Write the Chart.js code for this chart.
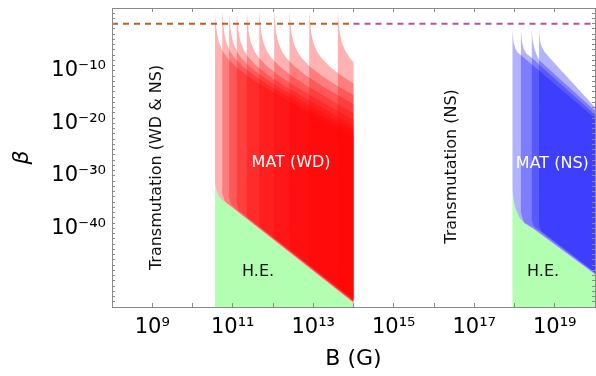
<!DOCTYPE html>
<html>
<head>
<meta charset="utf-8">
<script src="https://cdn.jsdelivr.net/npm/chart.js@4.4.1/dist/chart.umd.min.js"></script>
<style>
  html, body { margin: 0; padding: 0; background: #fff; }
  #betaChart { display: block; }
</style>
</head>
<body>
<canvas id="betaChart" width="596" height="376"></canvas>
<script>
(function () {
    'use strict';

    // All curve points are [log10 B (G), log10 beta]

    // MAT (WD) bands: upper edge of each band, left to right
    const wdTop = [
        [[10.56, 1.2], [10.565, 1.0], [10.58, -0.6], [10.61, -2.8], [10.66, -4.6], [10.76, -6.4], [10.86, -7.5], [11.06, -9.1], [11.36, -10.9], [11.76, -12.9], [12.56, -16.5], [13.56, -20.8], [14, -22.7]],
        [[10.74, 1.2], [10.745, 1.0], [10.76, -0.6], [10.79, -2.8], [10.84, -4.6], [10.94, -6.4], [11.04, -7.5], [11.24, -9.1], [11.54, -10.9], [11.94, -12.9], [12.74, -16.5], [13.74, -20.8], [14, -21.9]],
        [[10.91, 1.2], [10.915, 1.0], [10.93, -0.6], [10.96, -2.8], [11.01, -4.6], [11.11, -6.4], [11.21, -7.5], [11.41, -9.1], [11.71, -10.9], [12.11, -12.9], [12.91, -16.5], [13.91, -20.8], [14, -21.2]],
        [[11.10, 1.2], [11.105, 1.0], [11.12, -0.6], [11.15, -2.8], [11.20, -4.6], [11.30, -6.4], [11.40, -7.5], [11.60, -9.1], [11.90, -10.9], [12.30, -12.9], [13.10, -16.5], [14, -20.4]],
        [[11.35, 1.2], [11.355, 1.0], [11.37, -0.6], [11.40, -2.8], [11.45, -4.6], [11.55, -6.4], [11.65, -7.5], [11.85, -9.1], [12.15, -10.9], [12.55, -12.9], [13.35, -16.5], [14, -19.3]],
        [[11.66, 1.2], [11.665, 1.0], [11.68, -0.6], [11.71, -2.8], [11.76, -4.6], [11.86, -6.4], [11.96, -7.5], [12.16, -9.1], [12.46, -10.9], [12.86, -12.9], [13.66, -16.5], [14, -18.0]],
        [[12.03, 1.2], [12.035, 1.0], [12.05, -0.6], [12.08, -2.8], [12.13, -4.6], [12.23, -6.4], [12.33, -7.5], [12.53, -9.1], [12.83, -10.9], [13.23, -12.9], [14, -16.3]],
        [[12.41, 1.2], [12.415, 1.0], [12.43, -0.6], [12.46, -2.8], [12.51, -4.6], [12.61, -6.4], [12.71, -7.5], [12.91, -9.1], [13.21, -10.9], [13.61, -12.9], [14, -14.6]],
        [[12.90, 1.2], [12.905, 1.0], [12.92, -0.6], [12.95, -2.8], [13.00, -4.6], [13.10, -6.4], [13.20, -7.5], [13.40, -9.1], [13.70, -10.9], [14, -12.4]],
        [[13.61, 1.2], [13.615, 1.0], [13.63, -0.6], [13.66, -2.8], [13.71, -4.6], [13.81, -6.4], [13.91, -7.5], [14, -8.4]]
    ];

    // MAT (WD) bands: lower edge (first one is also the top of H.E.)
    const wdBottom = [
        [[10.56, -31.6], [10.60, -32.9], [10.65, -33.8], [10.72, -34.5], [10.81, -35.05], [11.14, -37.0], [14, -54.25]],
        [[10.74, -33.3], [10.79, -34.5], [10.81, -34.95], [11.14, -36.9], [14, -54.15]],
        [[10.91, -34.2], [10.96, -35.4], [11.14, -36.8], [14, -54.05]],
        [[11.10, -35.3], [11.15, -36.5], [14, -53.95]],
        [[11.35, -37.9], [14, -53.85]],
        [[11.66, -39.6], [14, -53.75]],
        [[12.03, -41.8], [14, -53.65]],
        [[12.41, -44.0], [14, -53.55]],
        [[12.90, -46.8], [14, -53.45]],
        [[13.61, -51.0], [14, -53.35]]
    ];

    // MAT (NS) bands
    const nsTop = [
        [[17.95, -2.0], [17.96, -3.3], [17.98, -4.6], [18.02, -5.7], [18.08, -6.5], [18.16, -7.0], [18.30, -7.9], [20, -19.0]],
        [[18.16, -2.0], [18.17, -3.3], [18.19, -4.6], [18.23, -5.8], [18.30, -6.7], [18.43, -7.5], [18.60, -8.7], [20, -18.3]],
        [[18.43, -2.0], [18.44, -3.3], [18.46, -4.6], [18.50, -5.9], [18.55, -6.9], [18.61, -7.9], [18.75, -8.9], [20, -17.6]],
        [[18.61, -2.0], [18.62, -3.3], [18.64, -4.5], [18.68, -5.5], [18.75, -6.4], [18.90, -7.7], [20, -16.9]]
    ];

    const nsBottom = [
        [[17.95, -32.7], [17.98, -34.6], [18.03, -36.3], [18.13, -38.1], [18.25, -39.1], [18.46, -40.1], [20, -48.8]],
        [[18.16, -37.0], [18.21, -38.3], [18.25, -38.95], [18.46, -39.95], [20, -48.65]],
        [[18.43, -38.5], [18.48, -39.6], [20, -48.5]],
        [[18.61, -39.3], [18.66, -40.5], [20, -48.35]]
    ];

    // transmutation bound beta = 0.1 (dashed lines)
    const transBeta = 0.1;
    const wdLineB = [1e8, 1e14];
    const nsLineB = [1e14, 1e20];

    // tick labels (exponents)
    const xLabelExps = [9, 11, 13, 15, 17, 19];
    const yLabelExps = [-10, -20, -30, -40];

    // text in the plot: [log10 B, log10 beta]
    const regionText = ['Transmutation (WD & NS)', 'MAT (WD)', 'H.E.', 'Transmutation (NS)', 'MAT (NS)', 'H.E.'];
    const regionPos = [[9.12, -28.4], [12.45, -27.6], [11.63, -48.3], [16.45, -28.2], [18.94, -27.8], [18.71, -48.3]];

    const regionVertical = [true, false, false, true, false, false];
    const regionColor = ['#111', '#fff', '#111', '#111', '#fff', '#111'];

    const FRAME = '#8a8a8a';
    const FLOOR = -56; // below the axis, H.E. fills down past it

    Chart.defaults.font.family = "'DejaVu Sans', sans-serif";

    const SUP = {'-': '\u207b', '0': '\u2070', '1': '\u00b9', '2': '\u00b2', '3': '\u00b3',
        '4': '\u2074', '5': '\u2075', '6': '\u2076', '7': '\u2077', '8': '\u2078', '9': '\u2079'};

    function powLabel(value, list) {
        const e = Math.round(Math.log10(value));
        if (list.indexOf(e) < 0) return '';
        return '10' + String(e).split('').map(c => SUP[c]).join('');
    }

    function toPt(p) {
        return {x: Math.pow(10, p[0]), y: Math.pow(10, p[1])};
    }

    function bandPoly(top, bottom) {
        return top.concat(bottom.slice().reverse()).map(toPt);
    }

    function underPoly(edge) {
        const first = edge[0];
        const last = edge[edge.length - 1];
        return edge.concat([[last[0], FLOOR], [first[0], FLOOR]]).map(toPt);
    }

    function shapeSet(data, color, order) {
        return {
            data: data,
            backgroundColor: color,
            borderColor: 'rgba(0,0,0,0)',
            borderWidth: 0,
            pointRadius: 0,
            fill: 'shape',
            order: order,
            xAxisID: 'x',
            yAxisID: 'y'
        };
    }

    function dashSet(bs, color) {
        return {
            data: bs.map(b => ({x: b, y: transBeta})),
            borderColor: color,
            borderWidth: 2,
            borderDash: [6, 5],
            pointRadius: 0,
            fill: false,
            order: 0,
            xAxisID: 'x',
            yAxisID: 'y'
        };
    }

    function decadeTicks(lo, hi) {
        const out = [];
        for (let e = lo; e <= hi; e++) out.push({value: Math.pow(10, e)});
        return out;
    }

    function noPad(s) {
        s.paddingLeft = 0;
        s.paddingRight = 0;
        s.paddingTop = 0;
        s.paddingBottom = 0;
    }

    const datasets = [
        dashSet(wdLineB, '#bf5d22'),
        dashSet(nsLineB, '#b9519f')
    ];
    wdTop.forEach((t, i) => datasets.push(shapeSet(bandPoly(t, wdBottom[i]), 'rgba(255,0,0,0.3)', 1)));
    nsTop.forEach((t, i) => datasets.push(shapeSet(bandPoly(t, nsBottom[i]), 'rgba(0,0,255,0.3)', 1)));
    datasets.push(shapeSet(underPoly(wdBottom[0]), 'rgba(0,255,0,0.3)', 2));
    datasets.push(shapeSet(underPoly(nsBottom[0]), 'rgba(0,255,0,0.3)', 2));

    // labels inside the plot
    const regionLabels = {
        id: 'regionLabels',
        afterDatasetsDraw(chart) {
            const ctx = chart.ctx;
            const xs = chart.scales.x;
            const ys = chart.scales.y;
            ctx.save();
            ctx.font = "16px 'DejaVu Sans'";
            ctx.textAlign = 'center';
            ctx.textBaseline = 'middle';
            regionText.forEach((txt, i) => {
                const px = xs.getPixelForValue(Math.pow(10, regionPos[i][0]));
                const py = ys.getPixelForValue(Math.pow(10, regionPos[i][1]));
                ctx.save();
                ctx.translate(px, py);
                if (regionVertical[i]) ctx.rotate(-Math.PI / 2);
                ctx.fillStyle = regionColor[i];
                ctx.fillText(txt, 0, 0);
                ctx.restore();
            });
            ctx.restore();
        }
    };

    const tickGrid = (len) => ({drawOnChartArea: false, tickLength: len, color: FRAME, lineWidth: 1, z: 1});
    const frameBorder = {display: true, color: FRAME, width: 1, z: 1};

    new Chart(document.getElementById('betaChart'), {
        type: 'line',
        data: {datasets: datasets},
        options: {
            responsive: false,
            animation: false,
            events: [],
            layout: {padding: {top: 8, right: 1, left: 0, bottom: 0}},
            elements: {line: {tension: 0}, point: {radius: 0}},
            plugins: {
                legend: {display: false},
                tooltip: {enabled: false}
            },
            scales: {
                x: {
                    type: 'logarithmic',
                    axis: 'x',
                    position: 'bottom',
                    min: 1e8,
                    max: 1e20,
                    afterBuildTicks: s => { s.ticks = decadeTicks(9, 19); },
                    afterFit: s => { s.height = 69; noPad(s); },
                    grid: tickGrid(-4),
                    border: frameBorder,
                    ticks: {
                        autoSkip: false,
                        maxRotation: 0,
                        minRotation: 0,
                        padding: 12,
                        color: '#000',
                        font: {size: 21},
                        callback: v => powLabel(v, xLabelExps)
                    },
                    title: {
                        display: true,
                        text: 'B (G)',
                        color: '#000',
                        font: {size: 22},
                        padding: {top: 0, bottom: 4}
                    }
                },
                y: {
                    type: 'logarithmic',
                    axis: 'y',
                    position: 'left',
                    min: 1e-55,
                    max: 1e2,
                    afterBuildTicks: s => { s.ticks = decadeTicks(-54, 1); },
                    afterFit: s => { s.width = 112; noPad(s); },
                    grid: tickGrid(-3),
                    border: frameBorder,
                    ticks: {
                        autoSkip: false,
                        padding: 9,
                        color: '#000',
                        font: {size: 21},
                        callback: v => powLabel(v, yLabelExps)
                    },
                    title: {
                        display: true,
                        text: '\u03b2',
                        color: '#000',
                        font: {size: 22, style: 'italic'},
                        padding: {top: 9, bottom: 0}
                    }
                },
                x2: {
                    type: 'logarithmic',
                    axis: 'x',
                    position: 'top',
                    min: 1e8,
                    max: 1e20,
                    afterBuildTicks: s => { s.ticks = decadeTicks(9, 19); },
                    afterFit: s => { s.height = 0; noPad(s); },
                    grid: tickGrid(-4),
                    border: frameBorder,
                    ticks: {display: false}
                },
                y2: {
                    type: 'logarithmic',
                    axis: 'y',
                    position: 'right',
                    min: 1e-55,
                    max: 1e2,
                    afterBuildTicks: s => { s.ticks = decadeTicks(-54, 1); },
                    afterFit: s => { s.width = 0; noPad(s); },
                    grid: tickGrid(-3),
                    border: frameBorder,
                    ticks: {display: false}
                }
            }
        },
        plugins: [regionLabels]
    });
})();
</script>
</body>
</html>
